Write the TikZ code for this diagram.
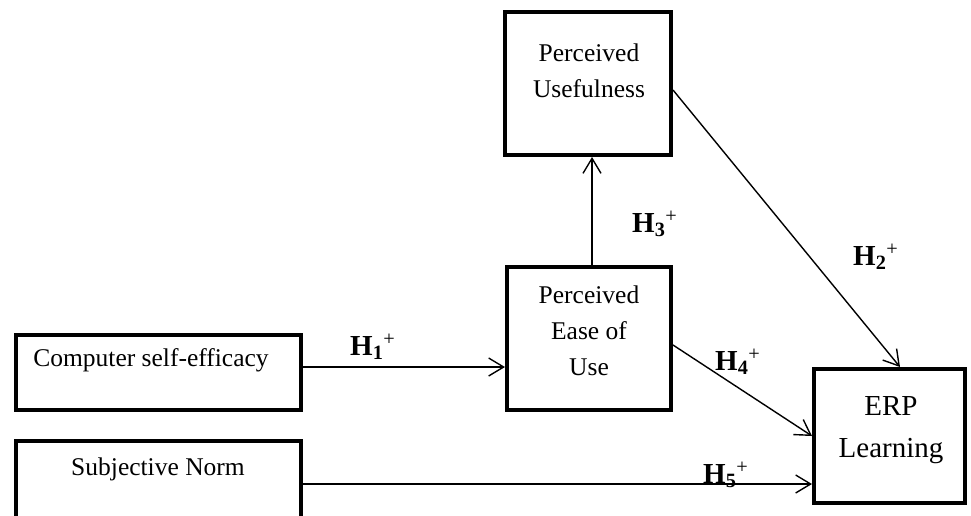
\documentclass[tikz,border=0pt]{standalone}
\usepackage{fontspec}
\setmainfont{Liberation Serif}
\usetikzlibrary{arrows.meta}
\begin{document}
\begin{tikzpicture}[x=1pt, y=1pt, every node/.style={inner sep=0pt}]
\tikzstyle{box}=[draw, line width=4pt, inner sep=0pt]
\tikzstyle{arr}=[line width=1.4pt, -{Straight Barb[length=15pt,width=18pt]}]
\tikzstyle{lbl}=[font=\fontsize{29}{34}\selectfont, anchor=base west]
\tikzstyle{txt}=[font=\fontsize{25.5}{36}\selectfont, align=center, anchor=base]
\useasboundingbox (0,0) rectangle (971,-515);
\clip (0,0) rectangle (971,-515);
% boxes
\node[box, minimum width=166pt, minimum height=143pt] (pu) at (588,-83.5) {};
\node[box, minimum width=164pt, minimum height=143pt] (peou) at (589,-338.5) {};
\node[box, minimum width=285pt, minimum height=75pt] (cse) at (158.5,-372.5) {};
\node[box, minimum width=285pt, minimum height=77pt] (sn) at (158.5,-479.5) {};
\node[box, minimum width=151pt, minimum height=134pt] (erp) at (889.5,-436) {};
% texts (base = last line)
\node[txt] (putext) at (589,-97) {Perceived\\Usefulness};
\node[txt] (peoutext) at (589,-375) {Perceived\\Ease of\\Use};
\node[txt] (csetext) at (151,-366) {Computer self-efficacy};
\node[txt] (sntext) at (158,-475) {Subjective Norm};
\node[txt, font=\fontsize{29}{42}\selectfont] (erptext) at (891,-457) {ERP\\Learning};
% paths
\draw[arr] ([xshift=3pt]peou.north) -- ([xshift=3pt]peou.north |- pu.south);
\draw[arr] ([yshift=-6.5pt]pu.east) -- ([xshift=10.5pt]erp.north);
\draw[arr] ([yshift=-6.5pt]peou.east) -- (erp.west);
\draw[arr] ([yshift=5.5pt]cse.east) -- ([yshift=5.5pt]cse.east -| peou.west);
\draw[arr] ([yshift=-4.5pt]sn.east) -- ([yshift=-4.5pt]sn.east -| erp.west);
% hypotheses
\node[lbl] (h1) at (350,-355) {\textbf{H\textsubscript{1}}\textsuperscript{+}};
\node[lbl] (h2) at (853,-265) {\textbf{H\textsubscript{2}}\textsuperscript{+}};
\node[lbl] (h3) at (632,-232) {\textbf{H\textsubscript{3}}\textsuperscript{+}};
\node[lbl] (h4) at (715,-370) {\textbf{H\textsubscript{4}}\textsuperscript{+}};
\node[lbl] (h5) at (703,-483) {\textbf{H\textsubscript{5}}\textsuperscript{+}};
\end{tikzpicture}
\end{document}
